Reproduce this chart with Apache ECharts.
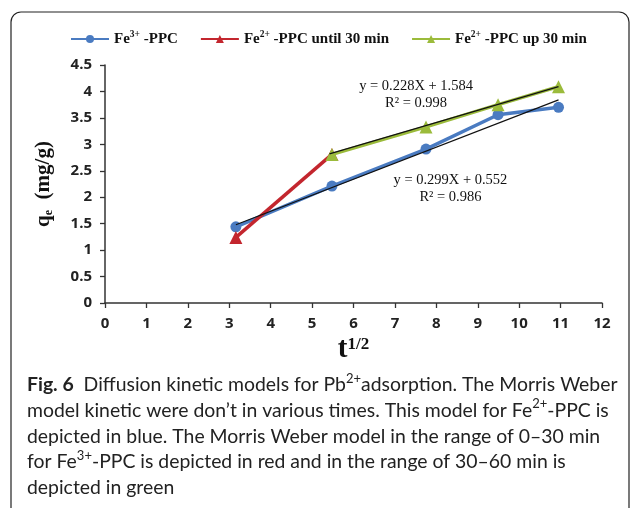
<!DOCTYPE html>
<html>
<head>
<meta charset="utf-8">
<script src="https://cdn.jsdelivr.net/npm/echarts@6/dist/echarts.min.js"></script>
<style>html,body{margin:0;padding:0;background:#fff}#c{width:630px;height:508px}</style>
</head>
<body>
<div id="c"></div>
<script>
// ---- data ----
const seriesNames = ['Fe3+ -PPC', 'Fe2+ -PPC until 30 min', 'Fe2+ -PPC up 30 min'];
const xBlue = [3.16, 5.48, 7.75, 9.49, 10.95];
const yBlue = [1.44, 2.21, 2.91, 3.56, 3.70];
const xRed = [3.16, 5.48];
const yRed = [1.24, 2.81];
const xGreen = [5.48, 7.75, 9.49, 10.95];
const yGreen = [2.81, 3.33, 3.75, 4.09];
const xBlueTrend = [3.16, 10.95];
const yBlueTrend = [1.48, 3.84];
const xGreenTrend = [5.42, 10.95];
const yGreenTrend = [2.82, 4.09];
const eqGreen = ['y = 0.228X + 1.584', 'R² = 0.998'];
const eqBlue = ['y = 0.299X + 0.552', 'R² = 0.986'];
const eqGreenAt = [7.51, 3.94];
const eqBlueAt = [8.34, 2.16];
const xTicks = [0, 1, 2, 3, 4, 5, 6, 7, 8, 9, 10, 11, 12];
const yTicks = [0, 0.5, 1, 1.5, 2, 2.5, 3, 3.5, 4, 4.5];

const pair = (xs, ys) => xs.map((x, i) => [x, ys[i]]);

const legendRich = {
  n: { fontFamily: 'Liberation Serif', fontWeight: 'bold', fontSize: 15, color: '#111', lineHeight: 18 },
  s: { fontFamily: 'Liberation Serif', fontWeight: 'bold', fontSize: 9.5, color: '#111', verticalAlign: 'top', lineHeight: 11 }
};
const legendLabels = {
  'Fe3+ -PPC': '{n|Fe}{s|3+}{n| -PPC}',
  'Fe2+ -PPC until 30 min': '{n|Fe}{s|2+}{n| -PPC until 30 min}',
  'Fe2+ -PPC up 30 min': '{n|Fe}{s|2+}{n| -PPC up 30 min}'
};

const axisFont = { fontFamily: 'Open Sans', fontWeight: 'bold', fontSize: 15, color: '#222' };
const eqStyle = { fontFamily: 'Liberation Serif', fontSize: 14.5, color: '#111', lineHeight: 17 };

const chart = echarts.init(document.getElementById('c'), null, { renderer: 'canvas' });
chart.setOption({
  animation: false,
  backgroundColor: '#fff',
  grid: { left: 105, right: 28, top: 65, bottom: 205, containLabel: false },
  legend: {
    data: seriesNames,
    top: 30, left: 70, padding: 0,
    itemWidth: 38, itemHeight: 10, itemGap: 22,
    formatter: n => legendLabels[n],
    textStyle: { rich: legendRich }
  },
  xAxis: {
    type: 'value', min: xTicks[0], max: xTicks[xTicks.length - 1], interval: 1,
    splitLine: { show: false },
    axisLine: { onZero: false, lineStyle: { color: '#333', width: 1.5 } },
    axisTick: { show: true, length: 5, lineStyle: { color: '#333', width: 1.3 } },
    axisLabel: Object.assign({ margin: 13 }, axisFont),
    name: '{t|t}{s|1/2}', nameLocation: 'middle', nameGap: 33,
    nameTextStyle: { rich: {
      t: { fontFamily: 'Liberation Serif', fontWeight: 'bold', fontSize: 29, color: '#111', lineHeight: 27 },
      s: { fontFamily: 'Liberation Serif', fontWeight: 'bold', fontSize: 17, color: '#111', verticalAlign: 'top', lineHeight: 14 }
    } }
  },
  yAxis: {
    type: 'value', min: yTicks[0], max: yTicks[yTicks.length - 1], interval: 0.5,
    splitLine: { show: false },
    axisLine: { show: true, onZero: false, lineStyle: { color: '#333', width: 1.5 } },
    axisTick: { show: true, length: 5, lineStyle: { color: '#333', width: 1.3 } },
    axisLabel: Object.assign({ margin: 13 }, axisFont),
    name: '{q|q}{e|e}{q|  (mg/g)}', nameLocation: 'middle', nameGap: 50, nameRotate: 90,
    nameTextStyle: { rich: {
      q: { fontFamily: 'Liberation Serif', fontWeight: 'bold', fontSize: 21, color: '#111', lineHeight: 22 },
      e: { fontFamily: 'Liberation Serif', fontWeight: 'bold', fontSize: 12, color: '#111', verticalAlign: 'bottom', lineHeight: 15 }
    } }
  },
  series: [
    {
      name: seriesNames[0], type: 'line', data: pair(xBlue, yBlue),
      symbol: 'circle', symbolSize: 11,
      lineStyle: { color: '#4a7bc1', width: 3.5 }, itemStyle: { color: '#4a7bc1' }, z: 2
    },
    {
      name: seriesNames[1], type: 'line', data: pair(xRed, yRed),
      symbol: 'triangle', symbolSize: 13,
      lineStyle: { color: '#c3262e', width: 3.5 }, itemStyle: { color: '#c3262e' }, z: 2
    },
    {
      name: seriesNames[2], type: 'line', data: pair(xGreen, yGreen),
      symbol: 'triangle', symbolSize: 13,
      lineStyle: { color: '#9bbb3b', width: 3.5 }, itemStyle: { color: '#9bbb3b' }, z: 3
    },
    {
      name: 'trendGreen', type: 'line', data: pair(xGreenTrend, yGreenTrend),
      symbol: 'none', lineStyle: { color: '#111', width: 1.2 }, z: 5,
      markPoint: {
        symbol: 'circle', symbolSize: 1, itemStyle: { color: 'rgba(0,0,0,0)' },
        label: { show: true, position: 'inside', formatter: eqGreen.join('\n'), ...eqStyle },
        data: [{ coord: eqGreenAt }]
      }
    },
    {
      name: 'trendBlue', type: 'line', data: pair(xBlueTrend, yBlueTrend),
      symbol: 'none', lineStyle: { color: '#111', width: 1.2 }, z: 5,
      markPoint: {
        symbol: 'circle', symbolSize: 1, itemStyle: { color: 'rgba(0,0,0,0)' },
        label: { show: true, position: 'inside', formatter: eqBlue.join('\n'), ...eqStyle },
        data: [{ coord: eqBlueAt }]
      }
    }
  ],
  graphic: [
    {
      type: 'rect', shape: { x: 11, y: 12, width: 618, height: 540, r: 10 },
      style: { fill: 'none', stroke: '#222', lineWidth: 1.2 }, silent: true, z: -1
    },
    {
      type: 'text', left: 27, top: 372,
      style: {
        text: [
          '{b|Fig. 6}{n|  Diffusion kinetic models for Pb}{s|2+}{n|adsorption. The Morris Weber}',
          '{n|model kinetic were don’t in various times. This model for Fe}{s|2+}{n|-PPC is}',
          '{n|depicted in blue. The Morris Weber model in the range of 0–30 min}',
          '{n|for Fe}{s|3+}{n|-PPC is depicted in red and in the range of 30–60 min is}',
          '{n|depicted in green}'
        ].join('\n'),
        rich: {
          n: { fontFamily: 'Lato', fontSize: 19.4, fill: '#222', lineHeight: 25.7 },
          b: { fontFamily: 'Lato', fontWeight: 'bold', fontSize: 19.4, fill: '#222', lineHeight: 25.7 },
          s: { fontFamily: 'Lato', fontSize: 13, fill: '#222', verticalAlign: 'top', lineHeight: 20 }
        }
      }
    }
  ]
});
</script>
</body>
</html>
